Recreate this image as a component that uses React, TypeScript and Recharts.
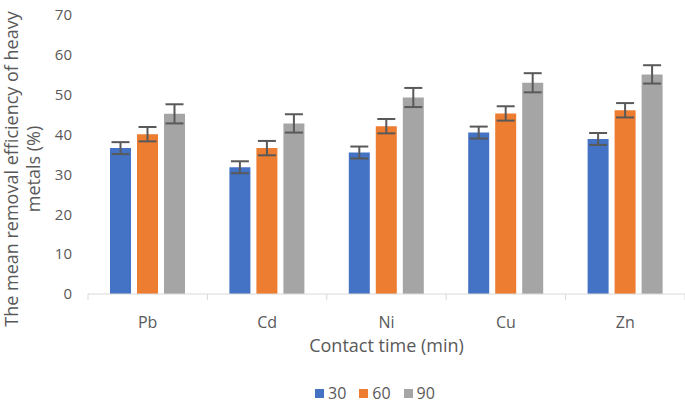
import { BarChart, Bar, XAxis, YAxis, ErrorBar, Legend } from 'recharts';

const METALS = ['Pb', 'Cd', 'Ni', 'Cu', 'Zn'];
const MEAN_30 = [36.6, 31.8, 35.5, 40.5, 38.9];
const MEAN_60 = [40.1, 36.6, 42.1, 45.3, 46.1];
const MEAN_90 = [45.2, 42.8, 49.3, 53.0, 55.1];
const ERR_30 = [1.5, 1.5, 1.5, 1.5, 1.5];
const ERR_60 = [1.8, 1.8, 1.8, 1.8, 1.8];
const ERR_90 = [2.4, 2.3, 2.4, 2.4, 2.3];
const Y_TICKS = [0, 10, 20, 30, 40, 50, 60, 70];

const SERIES = [
  { key: 't30', err: 'e30', name: '30', color: '#4472C4' },
  { key: 't60', err: 'e60', name: '60', color: '#ED7D31' },
  { key: 't90', err: 'e90', name: '90', color: '#A5A5A5' },
];

const data = METALS.map((m, i) => ({
  metal: m,
  t30: MEAN_30[i],
  t60: MEAN_60[i],
  t90: MEAN_90[i],
  e30: ERR_30[i],
  e60: ERR_60[i],
  e90: ERR_90[i],
}));

const FONT = '"Open Sans", sans-serif';
const TEXT = '#595959';
const W = 685;
const H = 405;
const Y_W = 88;
const BAND = (W - Y_W) / METALS.length;

// category label + separator ticks at the band edges, like Excel
const MetalTick = (props: any) => {
  const { x, y, payload, index } = props;
  const left = x - BAND / 2;
  return (
    <g>
      <line x1={left} y1={y} x2={left} y2={y + 6} stroke="#d9d9d9" />
      {index === METALS.length - 1 && (
        <line x1={left + BAND} y1={y} x2={left + BAND} y2={y + 6} stroke="#d9d9d9" />
      )}
      <text x={x} y={y + 34} textAnchor="middle" fill={TEXT} fontSize={16} fontFamily={FONT}>
        {payload.value}
      </text>
    </g>
  );
};

const YTitle = () => (
  <g fill={TEXT} fontSize={18} fontFamily={FONT}>
    <text x={18} y={169} textAnchor="middle" transform="rotate(-90 18 169)">
      The mean removal efficiency of heavy
    </text>
    <text x={40} y={169} textAnchor="middle" transform="rotate(-90 40 169)">
      metals (%)
    </text>
  </g>
);

const LegendBox = () => (
  <div style={{ display: 'flex', gap: 13, fontFamily: FONT, fontSize: 16, color: TEXT }}>
    {SERIES.map((s) => (
      <div key={s.key} style={{ display: 'flex', alignItems: 'center', gap: 4 }}>
        <span style={{ width: 9, height: 9, background: s.color, display: 'inline-block' }} />
        <span>{s.name}</span>
      </div>
    ))}
  </div>
);

export default function App() {
  return (
    <div style={{ position: 'absolute', left: 0, top: 0, background: '#fff' }}>
      <BarChart
        width={W}
        height={H}
        data={data}
        margin={{ top: 15, right: 0, left: 0, bottom: 0 }}
        barSize={21}
        barGap={6}
      >
        <XAxis
          dataKey="metal"
          height={111}
          stroke="#d9d9d9"
          tickLine={false}
          tickSize={0}
          tickMargin={0}
          tick={<MetalTick />}
          interval={0}
          label={{
            value: 'Contact time (min)',
            position: 'insideTop',
            offset: 45,
            fill: TEXT,
            fontSize: 18,
            fontFamily: FONT,
          }}
        />
        <YAxis
          width={Y_W}
          domain={[0, 70]}
          ticks={Y_TICKS}
          axisLine={false}
          tickLine={false}
          tickSize={0}
          tickMargin={16}
          tick={{ fill: TEXT, fontSize: 15, fontFamily: FONT }}
          label={<YTitle />}
        />
        <Legend
          layout="horizontal"
          verticalAlign="middle"
          wrapperStyle={{ left: 315, top: 382, width: 'auto' }}
          content={<LegendBox />}
        />
        {SERIES.map((s) => (
          <Bar key={s.key} dataKey={s.key} name={s.name} fill={s.color} isAnimationActive={false}>
            <ErrorBar dataKey={s.err} width={9} stroke="#595959" strokeWidth={2} />
          </Bar>
        ))}
      </BarChart>
    </div>
  );
}
